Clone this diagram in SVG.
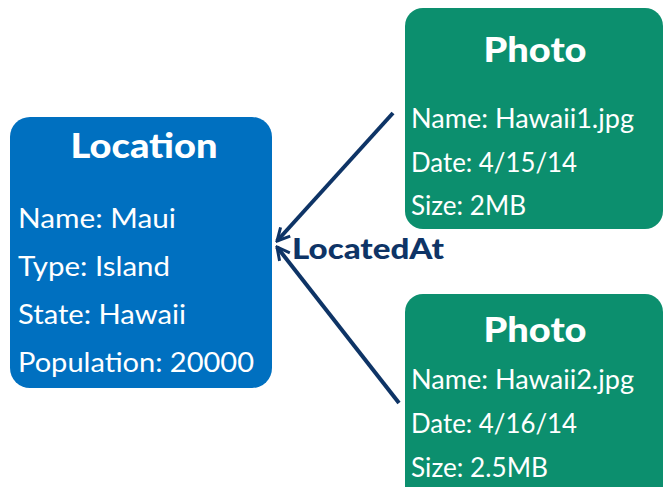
<svg xmlns="http://www.w3.org/2000/svg" width="664" height="487" viewBox="0 0 664 487">
  <defs>
    <marker id="arrow" viewBox="0 0 16 16" refX="14" refY="8" markerWidth="16" markerHeight="16" markerUnits="userSpaceOnUse" orient="auto">
      <path d="M1.5,1.5 L14,8 L1.5,14.5" fill="none" stroke="#0E3466" stroke-width="3" stroke-linejoin="miter"/>
    </marker>
    <style>
      .loc { fill: #0070C0; }
      .photo { fill: #0C8F6E; }
      .title { font-family: Lato, "Open Sans", sans-serif; font-weight: 900; font-size: 35px; fill: #FFFFFF; text-anchor: middle; }
      .attr { font-family: Lato, "Open Sans", sans-serif; font-size: 27px; fill: #FFFFFF; }
      .edge { stroke: #0E3466; stroke-width: 4; fill: none; }
      .label { font-family: Lato, "Open Sans", sans-serif; font-weight: 900; font-size: 28px; fill: #0E3466; }
    </style>
  </defs>

  <g id="location">
    <rect class="loc" x="10" y="117" width="262" height="271" rx="20" ry="20"/>
    <text class="title" x="144" y="158" textLength="147" lengthAdjust="spacingAndGlyphs">Location</text>
    <text class="attr" x="18" y="228" textLength="158" lengthAdjust="spacingAndGlyphs">Name: Maui</text>
    <text class="attr" x="18" y="276" textLength="152" lengthAdjust="spacingAndGlyphs">Type: Island</text>
    <text class="attr" x="18" y="324" textLength="168" lengthAdjust="spacingAndGlyphs">State: Hawaii</text>
    <text class="attr" x="18" y="372" textLength="236" lengthAdjust="spacingAndGlyphs">Population: 20000</text>
  </g>

  <g id="photo1">
    <rect class="photo" x="405" y="8" width="258" height="221" rx="18" ry="18"/>
    <text class="title" x="535" y="62" textLength="103" lengthAdjust="spacingAndGlyphs">Photo</text>
    <text class="attr" x="411" y="128" textLength="223" lengthAdjust="spacingAndGlyphs">Name: Hawaii1.jpg</text>
    <text class="attr" x="411" y="172" textLength="166" lengthAdjust="spacingAndGlyphs">Date: 4/15/14</text>
    <text class="attr" x="411" y="215" textLength="115" lengthAdjust="spacingAndGlyphs">Size: 2MB</text>
  </g>

  <g id="photo2">
    <rect class="photo" x="405" y="294" width="258" height="220" rx="18" ry="18"/>
    <text class="title" x="535" y="342" textLength="103" lengthAdjust="spacingAndGlyphs">Photo</text>
    <text class="attr" x="411" y="389" textLength="223" lengthAdjust="spacingAndGlyphs">Name: Hawaii2.jpg</text>
    <text class="attr" x="411" y="433" textLength="166" lengthAdjust="spacingAndGlyphs">Date: 4/16/14</text>
    <text class="attr" x="411" y="477" textLength="137" lengthAdjust="spacingAndGlyphs">Size: 2.5MB</text>
  </g>

  <g id="connectors">
    <line class="edge" x1="393" y1="113" x2="277" y2="241" marker-end="url(#arrow)"/>
    <line class="edge" x1="399" y1="403" x2="277" y2="247" marker-end="url(#arrow)"/>
    <text class="label" x="292" y="259" textLength="152" lengthAdjust="spacingAndGlyphs">LocatedAt</text>
  </g>
</svg>
